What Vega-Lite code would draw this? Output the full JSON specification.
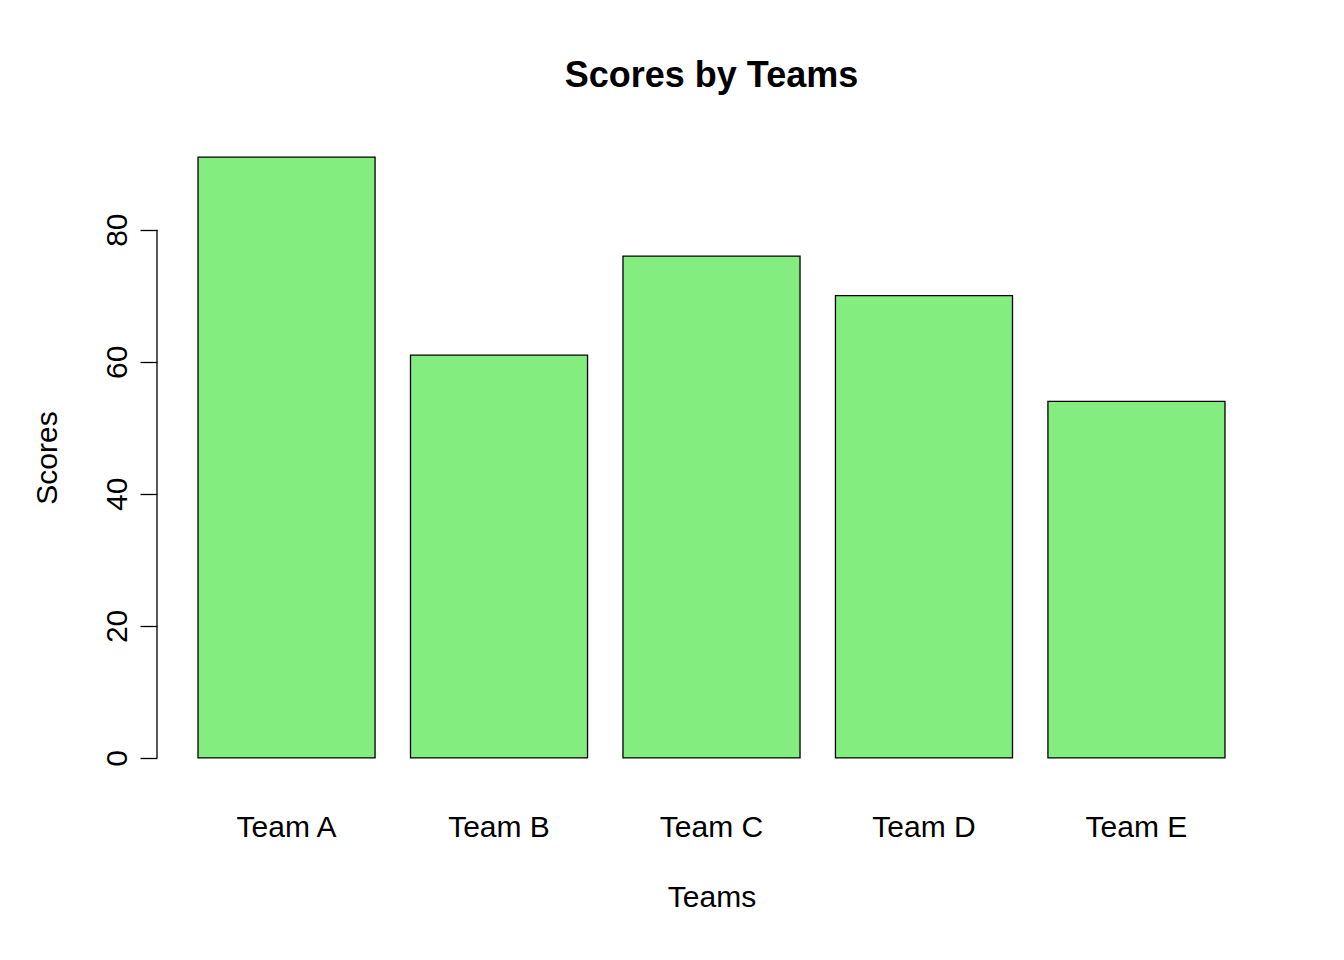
{
  "$schema": "https://vega.github.io/schema/vega-lite/v6.json",
  "autosize": "none",
  "width": 1109,
  "height": 649,
  "padding": {"left": 157, "top": 133, "right": 78, "bottom": 178},
  "background": "white",
  "config": {
    "font": "Liberation Sans",
    "view": {"stroke": null}
  },
  "title": {"text": "Scores by Teams", "fontSize": 36, "fontWeight": "bold", "offset": 38, "color": "black"},
  "data": {"values": [
    {"team": "Team A", "score": 91},
    {"team": "Team B", "score": 61},
    {"team": "Team C", "score": 76},
    {"team": "Team D", "score": 70},
    {"team": "Team E", "score": 54}
  ]},
  "layer": [
    {
      "mark": {"type": "bar", "fill": "#83ED7F", "stroke": "black", "strokeWidth": 1.3},
      "encoding": {
        "x": {
          "field": "team", "type": "nominal", "sort": null, "title": "Teams",
          "scale": {"paddingInner": 0.1667, "paddingOuter": 0.193},
          "axis": {"domain": false, "ticks": false, "labelAngle": 0, "labelFontSize": 30, "labelColor": "black", "labelPadding": 30, "titleFontSize": 30, "titleFontWeight": "normal", "titleColor": "black", "titlePadding": 40}
        },
        "y": {
          "field": "score", "type": "quantitative", "title": "Scores",
          "scale": {"domain": [-3.64, 94.64], "nice": false, "zero": false},
          "axis": {"values": [0, 20, 40, 60, 80], "domain": false, "grid": false, "tickSize": 17, "tickColor": "black", "tickWidth": 1.3, "labelAngle": 270, "labelAlign": "center", "labelBaseline": "bottom", "labelFontSize": 30, "labelColor": "black", "labelPadding": 8, "titleFontSize": 30, "titleFontWeight": "normal", "titleColor": "black", "titlePadding": 40}
        },
        "y2": {"datum": 0}
      }
    },
    {
      "data": {"values": [{"lo": 0, "hi": 80}]},
      "mark": {"type": "rule", "color": "black", "strokeWidth": 1.3},
      "encoding": {
        "x": {"value": 0},
        "y": {"field": "lo", "type": "quantitative"},
        "y2": {"field": "hi"}
      }
    }
  ]
}
